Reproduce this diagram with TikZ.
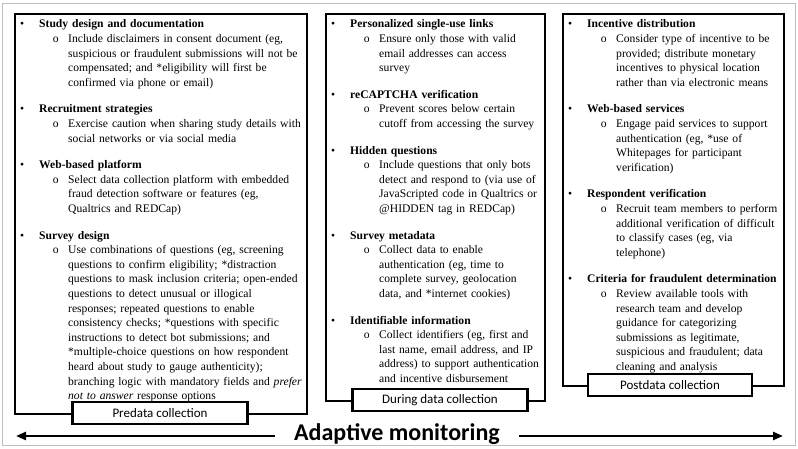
\documentclass[tikz,border=0pt]{standalone}
\usepackage{fontspec}
\setmainfont{Liberation Serif}
\newfontfamily\calibri{Carlito}
\usetikzlibrary{arrows.meta}

% one bullet heading, and one sub-point under it
\newcommand\topic[2][12pt]{\par\vspace{#1}\leftskip=25pt\noindent\llap{\textbullet\hspace{15pt}}\textbf{#2}\par}
\newcommand\detail[1]{\leftskip=54pt\noindent\llap{o\hspace{9.5pt}}#1\par}

\tikzset{
	colbox/.style={draw, line width=1.6pt, anchor=north west, inner sep=0pt},
	itemlist/.style={anchor=north west, inner sep=0pt, text width=#1, align=left, font=\fontsize{11.6}{14.6}\selectfont},
	phase/.style={draw, line width=2.2pt, fill=white, minimum width=175pt, minimum height=22pt, inner sep=0pt, font=\calibri\fontsize{13}{15}\selectfont},
}

\begin{document}
\begin{tikzpicture}[x=1pt, y=-1pt, >={Triangle[length=10pt,width=8pt]}]
	\useasboundingbox (0,0) rectangle (798,448);
	\draw[gray!50, line width=0.6pt] (2,3) rectangle (795,445);

	% the three phases
	\node[colbox, minimum width=292pt, minimum height=400pt] (pre) at (14,13) {};
	\node[colbox, minimum width=219pt, minimum height=387pt] (during) at (325,13) {};
	\node[colbox, minimum width=221pt, minimum height=372pt] (post) at (562,13) {};

	\node[itemlist=320pt] (preList) at (pre.north west) {
		\topic[0pt]{Study design and documentation}
		\detail{Include disclaimers in consent document (eg,\\ suspicious or fraudulent submissions will not be\\ compensated; and *eligibility will first be\\ confirmed via phone or email)}
		\topic{Recruitment strategies}
		\detail{Exercise caution when sharing study details with\\ social networks or via social media}
		\topic{Web-based platform}
		\detail{Select data collection platform with embedded\\ fraud detection software or features (eg,\\ Qualtrics and REDCap)}
		\topic{Survey design}
		\detail{Use combinations of questions (eg, screening\\ questions to confirm eligibility; *distraction\\ questions to mask inclusion criteria; open-ended\\ questions to detect unusual or illogical\\ responses; repeated questions to enable\\ consistency checks; *questions with specific\\ instructions to detect bot submissions; and\\{}*multiple-choice questions on how respondent\\ heard about study to gauge authenticity);\\ branching logic with mandatory fields and \textit{prefer}\\ \textit{not to answer} response options}
	};
	\node[itemlist=250pt] (duringList) at (during.north west) {
		\topic[0pt]{Personalized single-use links}
		\detail{Ensure only those with valid\\ email addresses can access\\ survey}
		\topic{reCAPTCHA verification}
		\detail{Prevent scores below certain\\ cutoff from accessing the survey}
		\topic{Hidden questions}
		\detail{Include questions that only bots\\ detect and respond to (via use of\\ JavaScripted code in Qualtrics or\\ @HIDDEN tag in REDCap)}
		\topic{Survey metadata}
		\detail{Collect data to enable\\ authentication (eg, time to\\ complete survey, geolocation\\ data, and *internet cookies)}
		\topic{Identifiable information}
		\detail{Collect identifiers (eg, first and\\ last name, email address, and IP\\ address) to support authentication\\ and incentive disbursement}
	};
	\node[itemlist=250pt] (postList) at (post.north west) {
		\topic[0pt]{Incentive distribution}
		\detail{Consider type of incentive to be\\ provided; distribute monetary\\ incentives to physical location\\ rather than via electronic means}
		\topic{Web-based services}
		\detail{Engage paid services to support\\ authentication (eg, *use of\\ Whitepages for participant\\ verification)}
		\topic{Respondent verification}
		\detail{Recruit team members to perform\\ additional verification of difficult\\ to classify cases (eg, via\\ telephone)}
		\topic{Criteria for fraudulent determination}
		\detail{Review available tools with\\ research team and develop\\ guidance for categorizing\\ submissions as legitimate,\\ suspicious and fraudulent; data\\ cleaning and analysis}
	};

	% phase labels sit on the bottom edges
	\node[phase] (preLabel) at (160,413) {Predata collection};
	\node[phase] (duringLabel) at (440,400) {During data collection};
	\node[phase, minimum width=164pt] (postLabel) at (670,385) {Postdata collection};

	% adaptive monitoring arrow
	\node[anchor=base, inner xsep=19pt, font=\calibri\bfseries\fontsize{24}{28}\selectfont] (monitor) at (397,440) {Adaptive monitoring};
	\coordinate (leftEnd) at (16,436);
	\coordinate (rightEnd) at (783,436);
	\draw[->, line width=2.4pt] (monitor.west |- leftEnd) -- (leftEnd);
	\draw[->, line width=2.4pt] (monitor.east |- rightEnd) -- (rightEnd);
\end{tikzpicture}
\end{document}
